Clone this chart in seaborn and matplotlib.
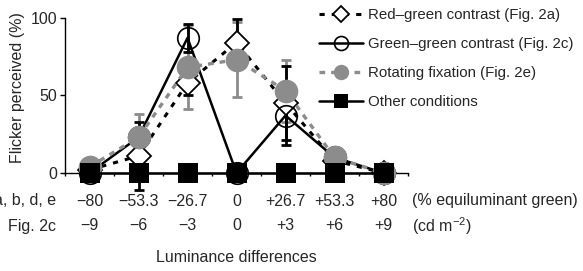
import pandas as pd
import matplotlib
matplotlib.use("Agg")
import matplotlib.pyplot as plt
from matplotlib.transforms import blended_transform_factory
import seaborn as sns

# x positions + the two rows of tick labels
pos = [0, 1, 2, 3, 4, 5, 6]
pct_labels = ["−80", "−53.3", "−26.7", "0", "+26.7", "+53.3", "+80"]
cd_labels = ["−9", "−6", "−3", "0", "+3", "+6", "+9"]

# flicker perceived (%)
red_green = [2, 11, 58, 84, 45, 8, 0]
red_green_err = [0, 22, 8, 15, 24, 0, 0]
green_green = [0, 23, 87, 0, 37, 10, 0]
green_green_err = [0, 0, 9, 0, 19, 0, 0]
rotating = [4, 23, 68, 73, 53, 10, 0]
rotating_err = [0, 15, 27, 24, 20, 0, 0]
other = [0, 0, 0, 0, 0, 0, 0]

GREY = "#8c8c8c"

sns.set_style("ticks")
plt.rcParams["font.family"] = ["Liberation Sans", "DejaVu Sans"]
plt.rcParams["font.size"] = 11.5

fig = plt.figure(figsize=(5.83, 2.71), dpi=100)
ax = fig.add_axes([65 / 583, 1 - 173 / 271, 343 / 583, 155.3 / 271])

df = pd.DataFrame({"x": pos, "rg": red_green, "rg_err": red_green_err,
                   "gg": green_green, "gg_err": green_green_err,
                   "rot": rotating, "rot_err": rotating_err, "other": other})

# error bars (only where there is one)
for col, c, z in [("rot", GREY, 2), ("rg", "black", 2.2), ("gg", "black", 2.4)]:
    d = df[df[col + "_err"] > 0]
    ax.errorbar(d["x"], d[col], yerr=d[col + "_err"], fmt="none", ecolor=c,
                elinewidth=2, capsize=3.5, capthick=2, zorder=z, clip_on=False)

sns.lineplot(data=df, x="x", y="rg", ax=ax, color="black", lw=2.2,
             linestyle=(0, (1.7, 2.3)), marker="D", ms=12, mfc="white",
             mec="black", mew=1.3, zorder=3, clip_on=False,
             label="Red–green contrast (Fig. 2a)")
sns.lineplot(data=df, x="x", y="gg", ax=ax, color="black", lw=1.8,
             marker="o", ms=15.5, mfc="none", mec="black", mew=1.2, zorder=4,
             clip_on=False, label="Green–green contrast (Fig. 2c)")
sns.lineplot(data=df, x="x", y="rot", ax=ax, color=GREY, lw=2.4,
             linestyle=(0, (1.7, 1.8)), marker="o", ms=17, mfc=GREY,
             mec=GREY, mew=0, zorder=5, clip_on=False,
             label="Rotating fixation (Fig. 2e)")
sns.lineplot(data=df, x="x", y="other", ax=ax, color="black", lw=1.8,
             marker="s", ms=14.4, mfc="black", mec="black", mew=0, zorder=6,
             clip_on=False, label="Other conditions")

ax.set_xlim(-0.5, 6.5)
ax.set_ylim(0, 100)
ax.set_xticks([p / 2 - 0.5 for p in range(15)])
ax.set_xticklabels([])
ax.set_yticks([0, 50, 100])
ax.tick_params(axis="x", length=2.5, width=1, color="black")
ax.tick_params(axis="y", length=3.6, width=1, color="black", pad=2)
ax.set_xlabel("")
ax.set_ylabel("Flicker perceived (%)")
ax.yaxis.set_label_coords(-0.117, 0.55)
sns.despine(ax=ax)
for s in ["left", "bottom"]:
    ax.spines[s].set_linewidth(1)
    ax.spines[s].set_color("black")

tr = blended_transform_factory(ax.transData, fig.transFigure)
row1, row2 = 1 - 201 / 271, 1 - 226 / 271
for x, a, b in zip(pos, pct_labels, cd_labels):
    ax.text(x, row1, a, transform=tr, ha="center", va="center")
    ax.text(x, row2, b, transform=tr, ha="center", va="center")
ax.text(-0.69, row1, "Fig. 2a, b, d, e", transform=tr, ha="right", va="center")
ax.text(-0.69, row2, "Fig. 2c", transform=tr, ha="right", va="center")
ax.text(6.59, row1, "(% equiluminant green)", transform=tr, ha="left", va="center")
ax.text(6.59, row2, "(cd m$^{\\mathregular{−2}}$)", transform=tr, ha="left", va="center")
fig.text(236 / 583, 1 - 257 / 271, "Luminance differences", ha="center", va="center")

h, l = ax.get_legend_handles_labels()
ax.legend(h, l, loc="upper left", bbox_to_anchor=(319 / 583, 1 - 8 / 271),
          bbox_transform=fig.transFigure, frameon=False, borderpad=0,
          borderaxespad=0, handlelength=2.9, handletextpad=0.4,
          labelspacing=1.0, markerscale=0.65, fontsize=10.8)

fig.savefig("out.png", dpi=100)
